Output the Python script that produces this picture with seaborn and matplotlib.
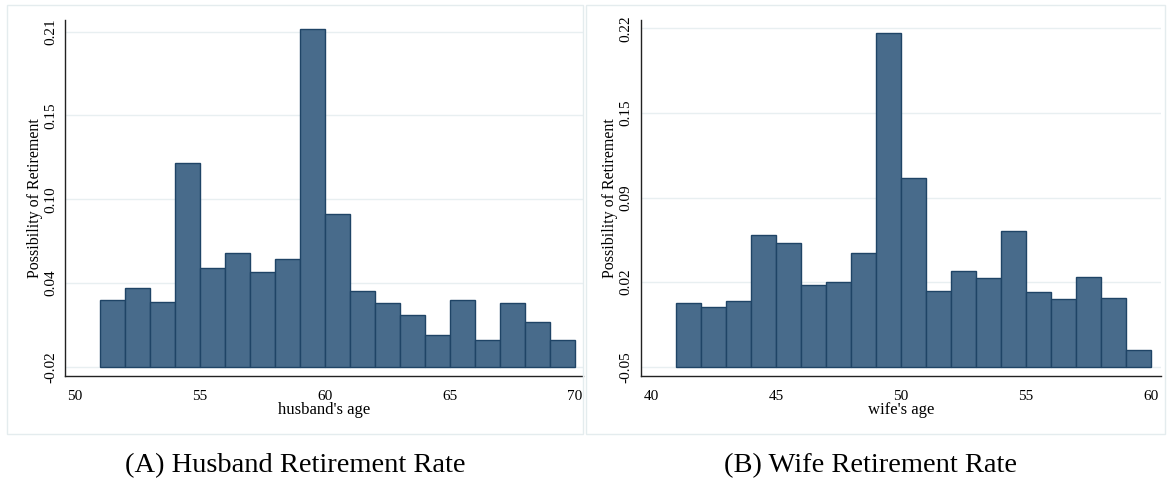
import numpy as np
import pandas as pd
import seaborn as sns
import matplotlib.pyplot as plt
from matplotlib.patches import Rectangle

# husband panel: bins start at these ages, width one year
husband_age = [51, 52, 53, 54, 55, 56, 57, 58, 59, 60, 61, 62, 63, 64, 65, 66, 67, 68, 69]
husband_rate = [0.026, 0.034, 0.0245, 0.120, 0.048, 0.058, 0.045, 0.054, 0.212, 0.085,
                0.032, 0.024, 0.0155, 0.002, 0.026, -0.002, 0.024, 0.011, -0.002]
husband_yticks = ["-0.02", "0.04", "0.10", "0.15", "0.21"]

# wife panel
wife_age = [41, 42, 43, 44, 45, 46, 47, 48, 49, 50, 51, 52, 53, 54, 55, 56, 57, 58, 59]
wife_rate = [0.001, -0.002, 0.0025, 0.055, 0.049, 0.015, 0.018, 0.0405, 0.216, 0.1005,
             0.0105, 0.026, 0.021, 0.058, 0.0095, 0.004, 0.0215, 0.0045, -0.037]
wife_yticks = ["-0.05", "0.02", "0.09", "0.15", "0.22"]

captions = ["(A) Husband Retirement Rate", "(B) Wife Retirement Rate"]

sns.set_style("white")
plt.rcParams['font.family'] = ['Liberation Serif', 'DejaVu Serif']
plt.rcParams['text.color'] = 'black'

bar_color = "#486b8b"
edge_color = "#1f4466"
grid_color = "#e8eff1"
axis_color = "#222222"

fig = plt.figure(figsize=(11.67, 4.87), dpi=100)

# stata-like graph region boxes
for x0, x1 in [(7.3, 583), (585.5, 1165)]:
    fig.patches.append(Rectangle((x0 / 1167, 1 - 434 / 487), (x1 - x0) / 1167, (434 - 4.5) / 487,
                                 transform=fig.transFigure, fill=False,
                                 edgecolor="#e4ecee", lw=1.0))

panels = [
    dict(age=husband_age, rate=husband_rate, labels=husband_yticks, xlabel="husband's age",
         xticks=[50, 55, 60, 65, 70], xlim=(49.61, 70.31), ylim=(-0.0264, 0.2184),
         pos=[0.0560, 0.2279, 0.4433, 0.7320], cap_x=295),
    dict(age=wife_age, rate=wife_rate, labels=wife_yticks, xlabel="wife's age",
         xticks=[40, 45, 50, 55, 60], xlim=(39.6, 60.4), ylim=(-0.0574, 0.227),
         pos=[0.5493, 0.2279, 0.4456, 0.7320], cap_x=871),
]

for p, cap in zip(panels, captions):
    ax = fig.add_axes(p["pos"])
    base = float(p["labels"][0])
    df = pd.DataFrame({"center": np.array(p["age"]) + 0.5,
                       "height": np.array(p["rate"]) - base})
    ax.grid(False)
    yt = np.linspace(float(p["labels"][0]), float(p["labels"][-1]), len(p["labels"]))
    for y in yt:
        ax.axhline(y, color=grid_color, lw=1.0, zorder=0)
    sns.barplot(data=df, x="center", y="height", native_scale=True, width=1,
                color=bar_color, edgecolor=edge_color, linewidth=1.0,
                saturation=1, bottom=base, ax=ax, zorder=2)
    ax.set_xlim(*p["xlim"])
    ax.set_ylim(*p["ylim"])
    ax.set_xticks(p["xticks"])
    ax.set_xticklabels([str(t) for t in p["xticks"]], fontsize=11)
    ax.set_yticks(yt)
    ax.set_yticklabels(p["labels"], fontsize=11, rotation=90, va="center")
    ax.set_xlabel(p["xlabel"], fontsize=12, labelpad=-1, color="black")
    ax.set_ylabel("Possibility of Retirement", fontsize=11.5, labelpad=1, color="black")
    ax.tick_params(axis="both", direction="out", length=5, width=0.8, color=axis_color,
                   labelcolor="black")
    ax.tick_params(axis="x", pad=5)
    ax.tick_params(axis="y", pad=1)
    sns.despine(ax=ax)
    for s in ["left", "bottom"]:
        ax.spines[s].set_color(axis_color)
        ax.spines[s].set_linewidth(1.0)
    fig.text(p["cap_x"] / 1167, 1 - 466 / 487, cap, ha="center", va="center",
             fontsize=20.5, color="black")

fig.savefig("out.png", dpi=100)
